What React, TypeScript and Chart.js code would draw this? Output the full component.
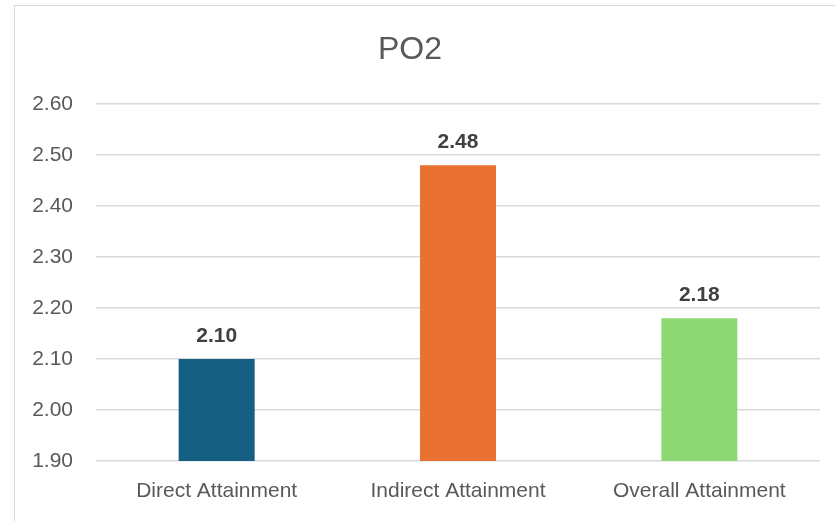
import React, { useEffect, useRef } from "react";
import { Chart, registerables } from "chart.js";

Chart.register(...registerables);

const categories = ["Direct Attainment", "Indirect Attainment", "Overall Attainment"];
const values = [2.1, 2.48, 2.18];
const barColors = ["#156082", "#E97132", "#8ED973"];
const chartTitle = "PO2";
const yMin = 1.9;
const yMax = 2.6;
const yStep = 0.1;

const FONT = "'Liberation Sans', Arial, sans-serif";

const valueLabels = {
  id: "valueLabels",
  afterDatasetsDraw(chart: any) {
    const ctx = chart.ctx;
    const meta = chart.getDatasetMeta(0);
    ctx.save();
    ctx.font = `bold 21px ${FONT}`;
    ctx.fillStyle = "#404040";
    ctx.textAlign = "center";
    ctx.textBaseline = "alphabetic";
    meta.data.forEach((bar: any, i: number) => {
      const v = chart.data.datasets[0].data[i] as number;
      ctx.fillText(v.toFixed(2), bar.x, bar.y - 17);
    });
    ctx.restore();
  },
};

export default function App() {
  const ref = useRef<HTMLCanvasElement>(null);

  useEffect(() => {
    if (!ref.current) return;
    const chart = new Chart(ref.current, {
      type: "bar",
      data: {
        labels: categories,
        datasets: [
          {
            data: values,
            backgroundColor: barColors,
            borderWidth: 0,
            barPercentage: 0.315,
            categoryPercentage: 1,
          },
        ],
      },
      options: {
        responsive: false,
        animation: false,
        devicePixelRatio: 1,
        layout: { padding: { left: 0, right: 15, top: 0, bottom: 0 } },
        plugins: {
          legend: { display: false },
          tooltip: { enabled: false },
          title: {
            display: true,
            text: chartTitle,
            color: "#595959",
            font: { family: FONT, size: 32, weight: "normal" },
            padding: { top: 31, bottom: 34.6 },
          },
        },
        scales: {
          x: {
            grid: { display: false, drawTicks: false },
            border: { display: false },
            ticks: {
              color: "#595959",
              font: { family: FONT, size: 21 },
              padding: 18,
              maxRotation: 0,
            },
            afterFit: (s: any) => {
              s.height = 60;
            },
          },
          y: {
            min: yMin,
            max: yMax,
            grid: { color: "#d9d9d9", lineWidth: 1.5, drawTicks: false },
            border: { display: false },
            ticks: {
              stepSize: yStep,
              color: "#595959",
              font: { family: FONT, size: 21 },
              padding: 23,
              callback: (v: any) => Number(v).toFixed(2),
            },
            afterFit: (s: any) => {
              s.width = 96;
            },
          },
        },
      },
      plugins: [valueLabels],
    });
    return () => chart.destroy();
  }, []);

  return (
    <div style={{ position: "absolute", left: 0, top: 0, width: 835, height: 521, background: "#fff", overflow: "hidden" }}>
      <div
        style={{
          position: "absolute",
          left: 14,
          top: 5,
          width: 900,
          height: 600,
          borderLeft: "1.5px solid #d9d9d9",
          borderTop: "1.5px solid #d9d9d9",
        }}
      />
      <canvas ref={ref} width={835} height={521} style={{ position: "absolute", left: 0, top: 0 }} />
    </div>
  );
}
